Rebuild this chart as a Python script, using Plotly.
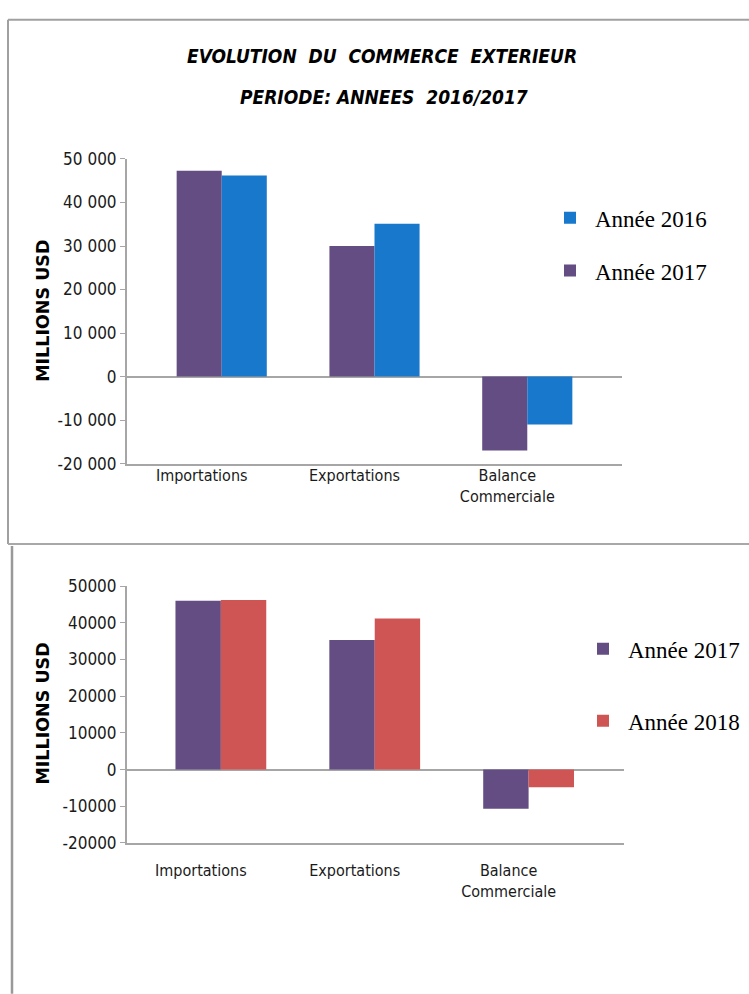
import plotly.graph_objects as go

W, H = 749, 994

categories = ["Importations", "Exportations", "Balance<br>Commerciale"]

# Top chart (2016/2017), series named as in the picture's legend
top_purple_name = "Année 2017"
top_purple = [47300, 30000, -17000]
top_blue_name = "Année 2016"
top_blue = [46200, 35100, -11000]

# Bottom chart (2017/2018)
bot_purple_name = "Année 2017"
bot_purple = [46000, 35300, -10700]
bot_red_name = "Année 2018"
bot_red = [46200, 41200, -4800]

y_tickvals = [50000, 40000, 30000, 20000, 10000, 0, -10000, -20000]
top_ticktext = ["50 000", "40 000", "30 000", "20 000", "10 000", "0", "-10 000", "-20 000"]
bot_ticktext = ["50000", "40000", "30000", "20000", "10000", "0", "-10000", "-20000"]

title_lines = ["EVOLUTION  DU  COMMERCE  EXTERIEUR", "PERIODE: ANNEES  2016/2017"]
ytitle = "MILLIONS USD"

PURPLE = "#634d82"
BLUE = "#1778cc"
RED = "#cf5454"
GRAY = "#a6a6a6"
NARROW = "DejaVu Sans Condensed, sans-serif"
SERIF = "Liberation Serif, Times New Roman, serif"


def px(x):
    return x / W


def py(y):
    return 1 - y / H


fig = go.Figure()
fig.add_trace(go.Bar(x=categories, y=top_purple, name=top_purple_name,
                     marker=dict(color=PURPLE, line=dict(width=0)),
                     xaxis="x", yaxis="y", legend="legend", legendrank=2, legendgroup="t2"))
fig.add_trace(go.Bar(x=categories, y=top_blue, name=top_blue_name,
                     marker=dict(color=BLUE, line=dict(width=0)),
                     xaxis="x", yaxis="y", legend="legend", legendrank=1, legendgroup="t1"))
fig.add_trace(go.Bar(x=categories, y=bot_purple, name=bot_purple_name,
                     marker=dict(color=PURPLE, line=dict(width=0)),
                     xaxis="x2", yaxis="y2", legend="legend2", legendgroup="b1"))
fig.add_trace(go.Bar(x=categories, y=bot_red, name=bot_red_name,
                     marker=dict(color=RED, line=dict(width=0)),
                     xaxis="x2", yaxis="y2", legend="legend2", legendgroup="b2"))

yaxis_common = dict(range=[-20000, 50000], tickvals=y_tickvals, showgrid=False,
                    showline=True, linecolor=GRAY, linewidth=2,
                    ticks="outside", ticklen=5, tickcolor=GRAY, tickwidth=1,
                    zeroline=True, zerolinecolor=GRAY, zerolinewidth=2,
                    tickfont=dict(family=NARROW, size=17, color="#1a1a1a"),
                    fixedrange=True)
xaxis_common = dict(showgrid=False, showline=True, linecolor=GRAY, linewidth=2,
                    ticks="", tickfont=dict(family=NARROW, size=16, color="#1a1a1a"),
                    ticklabelshift=-20, fixedrange=True)

fig.update_layout(
    width=W, height=H, margin=dict(l=0, r=0, t=0, b=0),
    paper_bgcolor="white", plot_bgcolor="white",
    barmode="group", bargap=0.41, bargroupgap=0,
    xaxis=dict(xaxis_common, domain=[px(127), px(622)], range=[-0.62, 2.62],
               anchor="y", ticklabelstandoff=-4),
    yaxis=dict(yaxis_common, domain=[py(463), py(152)], ticktext=top_ticktext, anchor="x"),
    xaxis2=dict(xaxis_common, domain=[px(127), px(624)], range=[-0.61, 2.62],
                anchor="y2", ticklabelstandoff=12),
    yaxis2=dict(yaxis_common, domain=[py(850), py(588)], ticktext=bot_ticktext, anchor="x2"),
    legend=dict(x=px(545), y=py(190), xanchor="left", yanchor="top",
                font=dict(family=SERIF, size=23, color="black"),
                itemwidth=40, tracegroupgap=20, bgcolor="rgba(0,0,0,0)",
                traceorder="grouped"),
    legend2=dict(x=px(578), y=py(630), xanchor="left", yanchor="top",
                 font=dict(family=SERIF, size=23, color="black"),
                 itemwidth=40, tracegroupgap=39, bgcolor="rgba(0,0,0,0)",
                 traceorder="grouped"),
    showlegend=True,
)

fig.add_annotation(text=title_lines[0], x=px(382), y=py(47), xref="paper", yref="paper",
                   showarrow=False, xanchor="center", yanchor="middle",
                   font=dict(family=NARROW, size=19, color="black", style="italic", weight="bold"))
fig.add_annotation(text=title_lines[1], x=px(384), y=py(89), xref="paper", yref="paper",
                   showarrow=False, xanchor="center", yanchor="middle",
                   font=dict(family=NARROW, size=19, color="black", style="italic", weight="bold"))

for yc in (307, 718):
    fig.add_annotation(text=ytitle, x=px(43), y=py(yc), xref="paper", yref="paper",
                       showarrow=False, textangle=-90, xanchor="center", yanchor="middle",
                       font=dict(family="DejaVu Sans", size=17.5, color="black", weight="bold"))

# Frames of the two chart images
fig.add_shape(type="line", xref="paper", yref="paper", x0=px(8), x1=px(8), y0=py(10), y1=py(545),
              line=dict(color="#a0a0a0", width=2))
fig.add_shape(type="line", xref="paper", yref="paper", x0=px(8), x1=1.01, y0=py(10), y1=py(10),
              line=dict(color="#a0a0a0", width=2))
fig.add_shape(type="line", xref="paper", yref="paper", x0=px(8), x1=1.01, y0=py(545), y1=py(545),
              line=dict(color="#a8a8a8", width=2))
fig.add_shape(type="line", xref="paper", yref="paper", x0=px(12), x1=px(12), y0=py(547), y1=-0.01,
              line=dict(color="#999999", width=2.5))

fig.write_html("out.html")
